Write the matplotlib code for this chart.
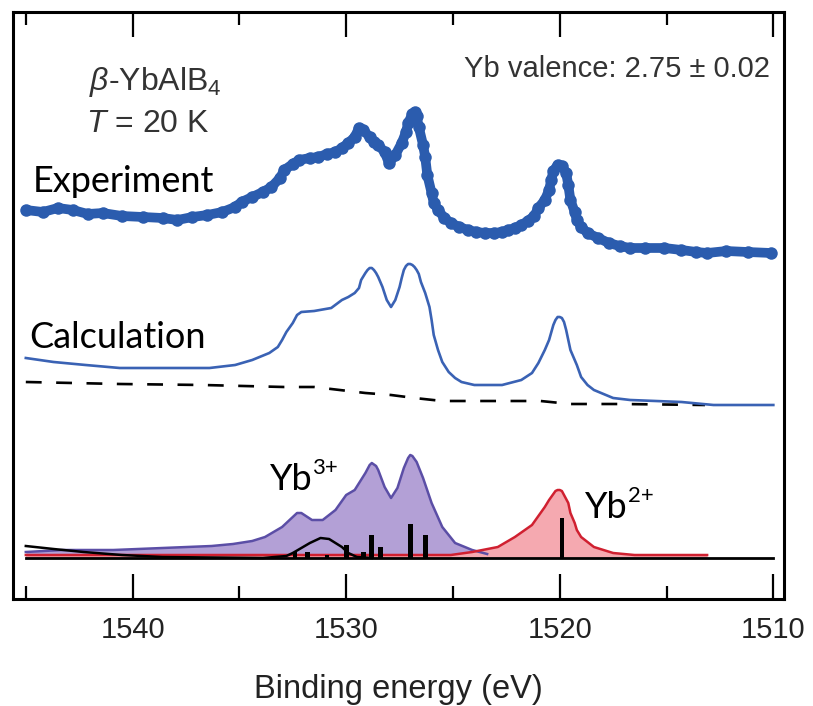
import matplotlib
matplotlib.use("Agg")
import matplotlib.pyplot as plt

# ---------------- data (binding energy in eV, intensity in arbitrary offset units) ----------------
exp_e = [1545.0, 1544.2, 1543.5, 1542.8, 1542.1, 1541.4, 1540.5, 1539.5, 1538.6, 1537.9,
         1537.2, 1536.5, 1535.8, 1535.2, 1534.9, 1534.4, 1533.9, 1533.5, 1533.1, 1532.9,
         1532.5, 1532.2, 1531.7, 1531.3, 1530.9, 1530.5, 1530.2, 1529.9, 1529.6, 1529.4,
         1529.2, 1528.9, 1528.7, 1528.5, 1528.2, 1528.0, 1527.7, 1527.4, 1527.2, 1527.1,
         1526.9, 1526.8, 1526.7, 1526.6, 1526.4, 1526.3, 1526.2, 1526.0, 1525.9, 1525.7,
         1525.4, 1525.1, 1524.7, 1524.3, 1523.9, 1523.5, 1523.1, 1522.7, 1522.4, 1522.1,
         1521.8, 1521.5, 1521.2, 1521.0, 1520.7, 1520.5, 1520.4, 1520.3, 1520.1, 1519.9,
         1519.7, 1519.6, 1519.5, 1519.3, 1519.2, 1519.0, 1518.7, 1518.2, 1517.7, 1517.2,
         1516.7, 1516.0, 1515.1, 1514.3, 1513.6, 1513.1, 1512.2, 1511.2, 1510.1]
exp_i = [348, 346, 350, 348, 344, 345, 342, 341, 340, 338,
         341, 343, 346, 351, 356, 361, 366, 371, 380, 388,
         394, 398, 400, 401, 404, 406, 410, 415, 421, 430,
         428, 421, 416, 413, 406, 395, 403, 415, 426, 435,
         444, 446, 442, 431, 413, 401, 383, 365, 355, 348,
         340, 335, 331, 328, 326, 325, 325, 326, 328, 330,
         333, 337, 342, 350, 358, 368, 378, 387, 393, 392,
         385, 373, 358, 346, 338, 331, 325, 320, 315, 312,
         310, 310, 310, 308, 306, 305, 307, 306, 305]

calc_e = [1545.0, 1543.7, 1542.2, 1540.6, 1538.3, 1536.4, 1535.2, 1534.4, 1533.6, 1533.2,
          1533.0, 1532.8, 1532.5, 1532.3, 1532.1, 1531.5, 1530.7, 1530.2, 1529.9, 1529.6,
          1529.4, 1529.3, 1529.1, 1529.0, 1528.9, 1528.8, 1528.7, 1528.6, 1528.5, 1528.3,
          1528.1, 1527.9, 1527.7, 1527.5, 1527.4, 1527.3, 1527.2, 1527.1, 1527.0, 1526.9,
          1526.8, 1526.7, 1526.6, 1526.5, 1526.3, 1526.1, 1526.0, 1525.9, 1525.7, 1525.5,
          1525.2, 1524.9, 1524.6, 1524.0, 1523.1, 1522.7, 1521.8, 1521.3, 1521.0, 1520.7,
          1520.5, 1520.3, 1520.2, 1520.1, 1520.0, 1519.9, 1519.8, 1519.7, 1519.5, 1519.2,
          1519.0, 1518.7, 1518.4, 1517.5, 1516.7, 1514.3, 1512.8, 1510.0]
calc_i = [200, 196, 193, 190, 190, 190, 193, 198, 205, 211,
          218, 226, 235, 243, 246, 247, 250, 258, 261, 265,
          270, 278, 285, 288, 290, 290, 288, 285, 281, 271,
          258, 251, 258, 271, 280, 288, 292, 294, 294, 293,
          291, 288, 284, 276, 265, 251, 238, 223, 208, 196,
          186, 180, 176, 173, 173, 173, 178, 185, 195, 208,
          218, 233, 238, 241, 241, 240, 236, 228, 208, 193,
          181, 173, 168, 160, 158, 156, 153, 153]

bg_e = [1545.0, 1540.6, 1536.7, 1532.9, 1531.5, 1530.3, 1529.1, 1527.9, 1526.8, 1525.5,
        1522.7, 1520.9, 1519.5, 1517.1, 1513.2]
bg_i = [176, 174, 173, 171, 171, 168, 165, 163, 160, 157, 157, 157, 154, 154, 153]

yb3_e = [1545.0, 1543.3, 1540.9, 1538.6, 1536.3, 1535.3, 1534.4, 1533.8, 1533.0, 1532.5,
         1532.3, 1532.1, 1531.6, 1531.1, 1530.5, 1530.0, 1529.6, 1529.1, 1528.9, 1528.8,
         1528.6, 1528.5, 1528.2, 1527.9, 1527.6, 1527.3, 1527.1, 1527.0, 1526.9, 1526.7,
         1526.4, 1526.0, 1525.5, 1524.9, 1524.1, 1523.4]
yb3_i = [6, 8, 8, 10, 12, 14, 17, 21, 31, 41,
         45, 45, 38, 38, 48, 63, 68, 85, 93, 95,
         92, 88, 71, 60, 70, 90, 100, 103, 102, 96,
         80, 55, 31, 15, 8, 4]

yb2_e = [1545.0, 1534.4, 1525.1, 1524.1, 1522.9, 1522.1, 1521.3, 1520.7, 1520.5, 1520.3,
         1520.2, 1520.1, 1520.0, 1519.9, 1519.8, 1519.6, 1519.5, 1519.3, 1519.2, 1519.0,
         1518.4, 1517.5, 1516.5, 1513.1]
yb2_i = [3, 3, 3, 6, 11, 21, 33, 51, 58, 64,
         67, 68, 68, 67, 63, 55, 45, 35, 28, 21,
         11, 5, 3, 3]

hump_e = [1545.0, 1543.7, 1542.3, 1540.5, 1538.6, 1533.9, 1532.8, 1532.5, 1531.7, 1531.2,
          1530.8, 1530.2, 1529.9, 1529.5, 1528.8]
hump_i = [12, 9, 6, 3, 1, 0, 2, 5, 15, 20, 19, 11, 5, 1, 0]

stick_e = [1532.4, 1531.8, 1530.9, 1530.0, 1529.2, 1528.8, 1528.4, 1527.0, 1526.3, 1519.9]
stick_h = [6, 6, 3, 13, 6, 23, 11, 34, 23, 40]

base_e = [1545.0, 1510.0]
base_i = [0, 0]

xticks_major = [1540, 1530, 1520, 1510]
xticks_minor = [1545, 1535, 1525, 1515]

# ---------------- fonts ----------------
plt.rcParams['mathtext.fontset'] = 'custom'
plt.rcParams['mathtext.rm'] = 'Liberation Sans'
plt.rcParams['mathtext.it'] = 'Liberation Sans:italic'
plt.rcParams['mathtext.bf'] = 'Liberation Sans:bold'

# ---------------- figure ----------------
fig = plt.figure(figsize=(8.13, 7.06), dpi=100)
ax = fig.add_axes([13 / 813, 1 - 599 / 706, 771 / 813, 587 / 706])

exp_col = '#2b5cae'
calc_col = '#3a62b4'

# bottom components
ax.fill_between(yb3_e, 0, yb3_i, color='#b3a0d6', lw=0, zorder=2)
ax.plot(yb3_e, yb3_i, color='#5b4ea6', lw=1.8, zorder=3)
ax.fill_between(yb2_e, 0, yb2_i, color='#f5a9b0', lw=0, zorder=2)
ax.plot(yb2_e, yb2_i, color='#d02030', lw=1.8, zorder=3)
ax.plot(hump_e, hump_i, color='black', lw=1.8, zorder=4)
ax.bar(stick_e, stick_h, width=0.22, color='black', zorder=5)
ax.plot(base_e, base_i, color='black', lw=2.0, zorder=6)

# background and calculation
ax.plot(bg_e, bg_i, color='black', lw=1.9, linestyle=(0, (6, 5.5)), zorder=3)
ax.plot(calc_e, calc_i, color=calc_col, lw=1.9, zorder=4)

# experiment
ax.plot(exp_e, exp_i, color=exp_col, lw=7, marker='o', ms=9, mew=0,
        solid_capstyle='round', solid_joinstyle='round', zorder=5)

ax.set_xlim(1545.6, 1509.5)
ax.set_ylim(-41, 546)
ax.set_yticks([])
ax.set_xticks(xticks_major)
ax.set_xticks(xticks_minor, minor=True)
ax.set_xticklabels([str(t) for t in xticks_major], fontfamily='Liberation Sans', fontsize=21,
                   color='#222222')
ax.tick_params(axis='x', which='major', direction='in', length=18, width=1.6,
               top=True, bottom=True, pad=12)
ax.tick_params(axis='x', which='minor', direction='in', length=9.5, width=1.6,
               top=True, bottom=True)
for s in ax.spines.values():
    s.set_linewidth(2.2)

ax.set_xlabel('Binding energy (eV)', fontfamily='Liberation Sans', fontsize=23.5,
              color='#222222', labelpad=22)

# texts
txtcol = '#333333'
ax.text(0.185, 0.867, r'$\beta$-YbAlB$_4$', transform=ax.transAxes, ha='center',
        va='baseline', fontsize=23, color=txtcol, fontfamily='Liberation Sans')
ax.text(0.175, 0.796, r'$T$ = 20 K', transform=ax.transAxes, ha='center',
        va='baseline', fontsize=23, color=txtcol, fontfamily='Liberation Sans')
ax.text(0.982, 0.889, 'Yb valence: 2.75 \u00b1 0.02', transform=ax.transAxes, ha='right',
        va='baseline', fontsize=21, color=txtcol, fontfamily='Liberation Sans')

cal_font = ['Lato', 'DejaVu Sans']
ax.text(0.025, 0.693, 'Experiment', transform=ax.transAxes, ha='left', va='baseline',
        fontsize=26, color='black', fontfamily=cal_font)
ax.text(0.021, 0.428, 'Calculation', transform=ax.transAxes, ha='left', va='baseline',
        fontsize=26, color='black', fontfamily=cal_font)
t3 = ax.text(0.333, 0.186, 'Yb', transform=ax.transAxes, ha='left', va='baseline',
             fontsize=26, color='black', fontfamily=cal_font)
ax.annotate('3+', xy=(1.0, 0.55), xycoords=t3, ha='left', va='bottom',
            fontsize=16, color='black', fontfamily=cal_font)
t2 = ax.text(0.742, 0.138, 'Yb', transform=ax.transAxes, ha='left', va='baseline',
             fontsize=26, color='black', fontfamily=cal_font)
ax.annotate('2+', xy=(1.0, 0.55), xycoords=t2, ha='left', va='bottom',
            fontsize=16, color='black', fontfamily=cal_font)

fig.savefig('out.png', dpi=100)
